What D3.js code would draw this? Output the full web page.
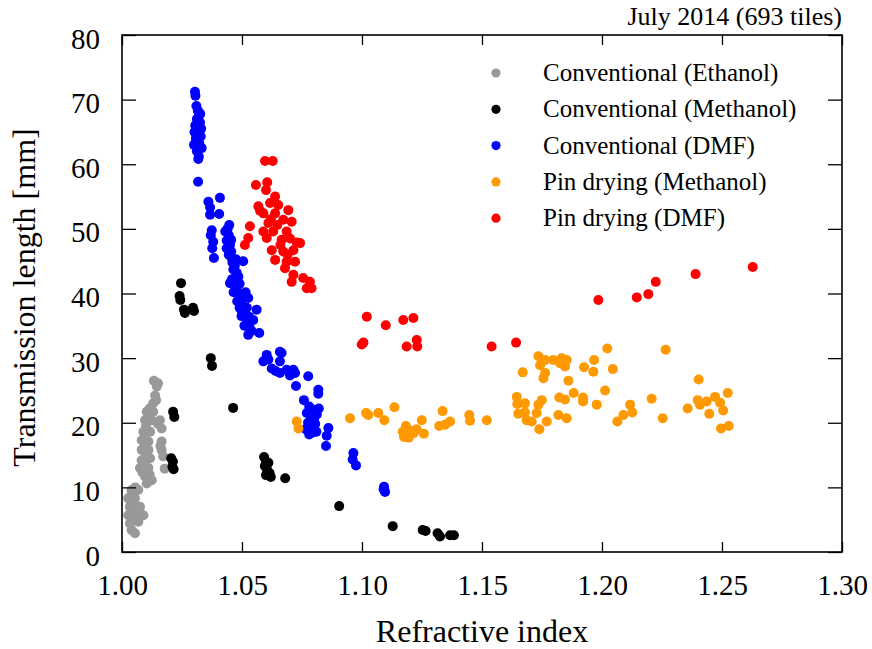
<!DOCTYPE html>
<html>
<head>
<meta charset="utf-8">
<script src="https://cdnjs.cloudflare.com/ajax/libs/d3/7.8.5/d3.min.js"></script>
<style>
body { margin: 0; background: #fff; }
svg text { font-family: "Liberation Serif", "Times New Roman", serif !important; fill: #000; }
</style>
</head>
<body>
<div id="chart"></div>
<script>
// chart values: [refractive index, transmission length (mm)]
var seriesNames = ["Conventional (Ethanol)", "Conventional (Methanol)", "Conventional (DMF)",
                   "Pin drying (Methanol)", "Pin drying (DMF)"];
var seriesColors = ["#999999", "#000000", "#0000ff", "#ff9900", "#ff0000"];

var xTicks = [1.00, 1.05, 1.10, 1.15, 1.20, 1.25, 1.30];
var yTicks = [0, 10, 20, 30, 40, 50, 60, 70, 80];

var convEthanol = [
  [1.0133,26.5],[1.0150,26.1],[1.0145,25.6],[1.0142,23.5],[1.0130,23.0],[1.0138,24.2],
  [1.0103,21.7],[1.0130,21.7],[1.0115,22.2],[1.0158,20.4],[1.0096,20.4],[1.0124,20.4],[1.0110,21.0],
  [1.0165,19.1],[1.0089,18.6],[1.0117,18.6],[1.0100,19.5],[1.0150,19.8],
  [1.0082,17.3],[1.0110,17.1],[1.0165,17.1],[1.0095,17.8],[1.0082,15.8],[1.0110,15.8],[1.0165,15.8],
  [1.0096,16.4],[1.0160,16.4],[1.0082,14.2],[1.0117,14.5],[1.0172,14.8],[1.0100,15.2],[1.0178,12.9],
  [1.0075,13.0],[1.0110,13.0],[1.0090,13.6],[1.0096,11.7],[1.0124,11.1],[1.0103,10.6],[1.0085,12.3],[1.0115,12.0],
  [1.0040,9.6],[1.0068,9.6],[1.0055,10.0],[1.0026,8.3],[1.0054,8.3],[1.0040,8.9],[1.0033,7.0],[1.0075,7.0],
  [1.0050,7.6],[1.0026,5.7],[1.0061,6.0],[1.0089,5.7],[1.0045,6.4],[1.0033,4.4],[1.0068,4.7],[1.0040,3.4],
  [1.0054,2.9],[1.0050,5.0]
];

var convMethanol = [
  [1.0246,41.6],[1.0240,39.6],[1.0243,39.0],[1.0258,37.5],[1.0262,37.0],[1.0296,37.8],[1.0300,37.3],
  [1.0370,30.0],[1.0375,28.8],[1.0463,22.3],[1.0213,21.7],[1.0218,20.9],
  [1.0205,14.5],[1.0212,14.0],[1.0210,13.2],[1.0215,12.8],
  [1.0592,14.7],[1.0600,14.0],[1.0595,13.3],[1.0610,13.8],[1.0605,12.7],[1.0615,12.2],[1.0620,11.6],[1.0600,11.9],
  [1.0680,11.4],[1.0905,7.1],[1.1128,4.0],[1.1253,3.4],[1.1265,3.25],[1.1315,2.9],[1.1325,2.4],
  [1.1367,2.6],[1.1383,2.6]
];

var convDMF = [
  [1.0304,71.2],[1.0306,70.6],[1.0310,69.0],[1.0316,68.3],[1.0320,67.5],[1.0312,67.0],[1.0325,66.5],
  [1.0305,66.0],[1.0318,65.8],[1.0330,65.5],[1.0302,65.0],[1.0315,64.8],[1.0328,64.3],[1.0310,63.8],
  [1.0322,63.3],[1.0300,63.0],[1.0316,62.6],[1.0332,62.5],[1.0312,62.0],[1.0320,61.2],[1.0318,60.8],
  [1.0326,67.8],[1.0308,64.0],[1.0322,66.0],[1.0317,57.3],
  [1.0360,54.2],[1.0408,54.8],[1.0367,53.3],[1.0367,52.2],[1.0405,52.3],[1.0374,49.8],[1.0370,49.0],
  [1.0380,48.0],[1.0376,47.0],[1.0383,45.5],
  [1.0447,50.6],[1.0440,50.0],[1.0430,49.6],[1.0445,49.0],[1.0436,48.2],[1.0450,47.5],[1.0436,47.0],
  [1.0455,46.5],[1.0445,46.0],[1.0457,45.5],[1.0505,45.0],[1.0460,44.8],[1.0470,44.3],[1.0464,43.7],
  [1.0478,43.2],[1.0485,42.6],[1.0458,42.2],[1.0470,41.8],[1.0450,41.6],[1.0490,41.5],[1.0478,40.6],
  [1.0465,40.2],[1.0488,40.0],[1.0492,39.3],[1.0526,39.3],[1.0500,39.0],[1.0480,38.8],[1.0505,38.0],
  [1.0490,37.8],[1.0520,37.8],[1.0561,37.5],[1.0512,36.7],[1.0498,36.5],[1.0530,36.4],[1.0547,35.9],
  [1.0520,35.4],[1.0510,35.0],[1.0533,34.6],[1.0526,33.6],[1.0572,33.9],[1.0540,34.2],[1.0500,37.2],
  [1.0515,40.2],[1.0475,45.3],[1.0455,48.3],
  [1.0603,30.5],[1.0658,31.0],[1.0589,29.5],[1.0610,29.8],[1.0658,29.5],[1.0665,30.8],[1.0624,28.4],
  [1.0640,28.0],[1.0658,27.7],[1.0686,28.2],[1.0714,28.2],[1.0721,27.7],[1.0700,27.3],[1.0776,27.2],
  [1.0725,25.7],[1.0818,25.1],[1.0818,24.5],[1.0758,23.5],[1.0797,22.0],[1.0780,22.5],[1.0770,21.5],
  [1.0790,21.0],[1.0800,20.5],[1.0775,20.0],[1.0785,19.5],[1.0805,19.8],[1.0812,21.3],[1.0820,22.2],
  [1.0765,19.0],[1.0795,18.5],[1.0780,18.2],[1.0810,18.6],[1.0860,19.2],[1.0853,18.0],[1.0850,16.4],
  [1.0964,15.3],[1.0961,14.3],[1.0975,13.4],[1.1092,10.1],[1.1096,9.3],[1.1090,9.7]
];

var pinMethanol = [
  [1.0728,20.2],[1.0735,19.1],[1.0950,20.7],[1.1017,21.5],[1.1026,21.2],[1.1068,21.5],[1.1093,20.4],
  [1.1135,22.4],[1.1183,19.5],[1.1175,17.8],[1.1170,18.6],[1.1185,18.2],[1.1200,18.8],[1.1215,18.4],
  [1.1228,19.0],[1.1195,17.7],[1.1249,20.4],[1.1258,18.3],[1.1336,21.8],[1.1322,19.5],[1.1346,19.7],
  [1.1367,20.2],[1.1447,21.2],[1.1450,20.3],[1.1520,20.4],
  [1.1670,27.8],[1.1735,30.3],[1.1742,28.9],[1.1763,29.7],[1.1797,29.7],[1.1832,30.0],[1.1853,29.7],
  [1.1846,28.7],[1.1825,29.2],[1.1763,27.7],[1.1756,26.9],[1.1860,26.5],[1.1925,28.6],[1.1967,29.7],
  [1.1964,27.9],[1.2022,31.5],[1.2045,28.3],[1.2265,31.3],[1.2403,26.7],
  [1.1645,24.0],[1.1647,22.9],[1.1679,23.0],[1.1651,21.4],[1.1679,21.6],[1.1686,20.4],[1.1707,20.2],
  [1.1728,21.5],[1.1735,22.8],[1.1749,23.5],[1.1739,19.0],[1.1770,20.2],[1.1818,21.2],[1.1822,23.9],
  [1.1846,23.6],[1.1853,20.7],[1.1882,24.6],[1.1921,23.9],[1.1921,23.3],[1.1978,22.8],[1.2013,25.0],
  [1.2064,20.2],[1.2089,21.2],[1.2117,22.8],[1.2126,21.6],[1.2207,23.7],[1.2253,20.7],[1.2357,22.2],
  [1.2399,23.5],[1.2408,22.8],[1.2436,23.3],[1.2471,24.0],[1.2447,21.4],[1.2492,23.1],[1.2505,21.9],
  [1.2524,24.6],[1.2496,19.1],[1.2528,19.5]
];

var pinDMF = [
  [1.0596,60.5],[1.0628,60.5],[1.0558,56.8],[1.0605,57.2],[1.0600,56.0],[1.0638,55.0],[1.0568,53.5],
  [1.0617,54.0],[1.0651,53.7],[1.0693,52.9],[1.0589,52.4],[1.0638,52.4],[1.0707,51.1],[1.0672,51.4],
  [1.0533,50.4],[1.0610,50.9],[1.0647,50.6],[1.0589,49.6],[1.0630,49.6],[1.0686,49.6],[1.0526,48.6],
  [1.0512,47.5],[1.0603,48.6],[1.0665,48.3],[1.0728,47.9],[1.0742,47.8],[1.0624,46.7],[1.0672,46.5],
  [1.0714,46.7],[1.0638,45.2],[1.0686,44.9],[1.0721,44.9],[1.0679,43.9],[1.0714,42.9],[1.0707,41.8],
  [1.0755,42.4],[1.0783,41.8],[1.0770,40.8],[1.0790,40.8],[1.0660,47.5],[1.0700,48.5],[1.0620,51.5],
  [1.0575,52.8],[1.0690,46.0],
  [1.1020,36.4],[1.1099,35.1],[1.1172,35.9],[1.1214,36.2],[1.0999,32.1],[1.1006,32.4],[1.1186,31.8],
  [1.1228,32.8],[1.1230,31.8],[1.1540,31.8],[1.1642,32.4],
  [1.1985,39.0],[1.2145,39.4],[1.2193,39.9],[1.2224,41.8],[1.2390,43.0],[1.2628,44.1]
];

var allSeries = [convEthanol, convMethanol, convDMF, pinMethanol, pinDMF];

// set the dimensions and margins of the graph
var margin = {top: 35, right: 30, bottom: 97, left: 122},
    width = 872 - margin.left - margin.right,
    height = 649 - margin.top - margin.bottom;

var x = d3.scaleLinear().domain([1.0, 1.3]).range([0, width]);
var y = d3.scaleLinear().domain([0, 80]).range([height, 0]);

var svg = d3.select("#chart").append("svg")
    .attr("width", 872)
    .attr("height", 649)
  .append("g")
    .attr("transform", "translate(" + margin.left + "," + margin.top + ")");

// points, drawn series by series like gnuplot does
allSeries.forEach(function(series, i) {
  svg.append("g").selectAll("circle")
      .data(series)
    .enter().append("circle")
      .attr("cx", function(d) { return x(d[0]); })
      .attr("cy", function(d) { return y(d[1]); })
      .attr("r", 5)
      .attr("fill", seriesColors[i]);
});

// axes with inward ticks (mirrored on top and right)
var xAxis = svg.append("g")
    .attr("transform", "translate(0," + height + ")")
    .call(d3.axisBottom(x).tickValues(xTicks).tickFormat(d3.format(".2f"))
          .tickSizeInner(-10).tickSizeOuter(0).tickPadding(22));
xAxis.selectAll("text").style("font-size", "29px");

var yAxis = svg.append("g")
    .call(d3.axisLeft(y).tickValues(yTicks).tickFormat(d3.format("d"))
          .tickSizeInner(-14).tickSizeOuter(0).tickPadding(22));
yAxis.selectAll("text").style("font-size", "29px").attr("dy", "0.45em");

svg.append("g")
    .call(d3.axisTop(x).tickValues(xTicks).tickFormat("").tickSizeInner(-10).tickSizeOuter(0));
svg.append("g")
    .attr("transform", "translate(" + width + ",0)")
    .call(d3.axisRight(y).tickValues(yTicks).tickFormat("").tickSizeInner(-14).tickSizeOuter(0));

svg.selectAll(".domain").remove();
svg.selectAll(".tick line").attr("stroke", "#000").attr("stroke-width", 1.3);

svg.append("rect")
    .attr("width", width)
    .attr("height", height)
    .attr("fill", "none")
    .attr("stroke", "#000")
    .attr("stroke-width", 1.6);

// axis titles
svg.append("text")
    .attr("x", width / 2)
    .attr("y", height + 90)
    .attr("text-anchor", "middle")
    .style("font-size", "32px")
    .text("Refractive index");

svg.append("text")
    .attr("transform", "rotate(-90)")
    .attr("x", -(height / 2) - 4)
    .attr("y", 35 - margin.left)
    .attr("text-anchor", "middle")
    .style("font-size", "32px")
    .text("Transmission length [mm]");

svg.append("text")
    .attr("x", width)
    .attr("y", -10)
    .attr("text-anchor", "end")
    .style("font-size", "26px")
    .text("July 2014 (693 tiles)");

// legend
var legend = svg.append("g")
    .attr("transform", "translate(" + (496 - margin.left) + "," + (73 - margin.top) + ")");
seriesNames.forEach(function(name, i) {
  var row = legend.append("g").attr("transform", "translate(0," + (i * 36.3) + ")");
  row.append("circle").attr("r", 4.6).attr("fill", seriesColors[i]);
  row.append("text")
      .attr("x", 47)
      .attr("y", 8)
      .style("font-size", "25px")
      .text(name);
});
</script>
</body>
</html>
